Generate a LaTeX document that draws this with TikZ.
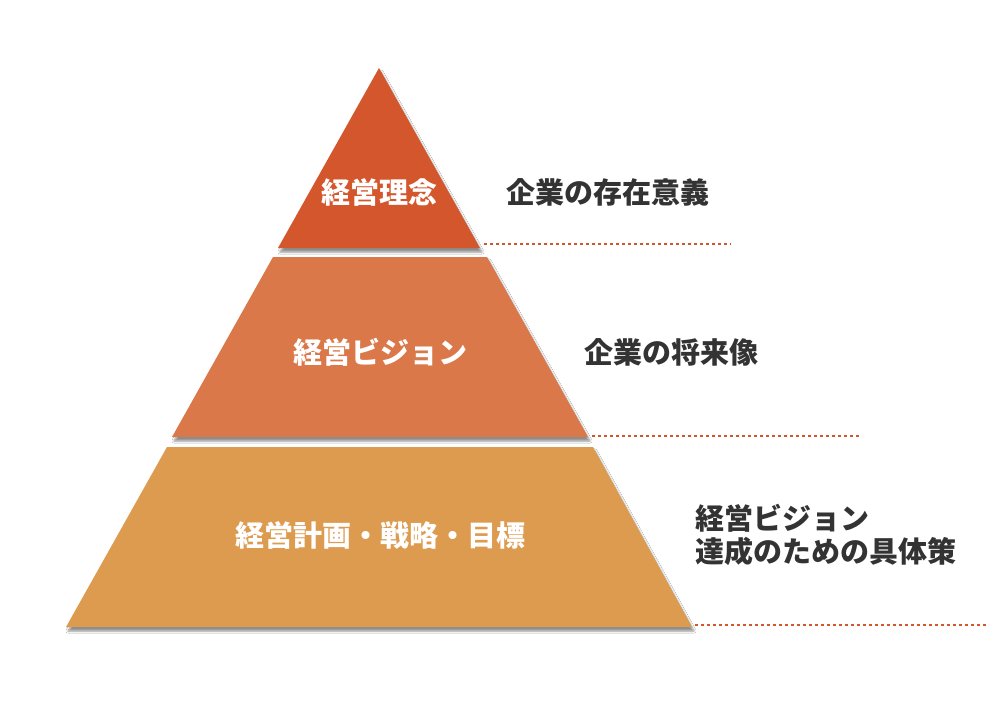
\documentclass[tikz,border=0pt]{standalone}
\usepackage{fontspec}
\setmainfont{Noto Sans CJK JP}
\usetikzlibrary{shadows.blur}

\definecolor{rinenred}{RGB}{212,86,44}
\definecolor{visionorange}{RGB}{218,120,73}
\definecolor{planorange}{RGB}{221,155,80}
\definecolor{notegray}{RGB}{51,51,51}

\begin{document}
\begin{tikzpicture}[x=1pt,y=-1pt,
  layer/.style={blur shadow={shadow xshift=2pt,shadow yshift=-4pt,shadow blur steps=5,shadow opacity=45}},
  inlabel/.style={font=\bfseries\fontsize{29}{33}\selectfont,text=white,inner sep=0pt},
  note/.style={font=\bfseries\fontsize{29}{33}\selectfont,text=notegray,anchor=west,align=left,inner sep=0pt},
  guide/.style={rinenred,line width=2pt,dash pattern=on 3pt off 3pt}]
  \useasboundingbox[fill=white] (0,0) rectangle (1000,705);
  % pyramid layers
  \fill[rinenred,layer] (379,68) -- (480,248) -- (278,248) -- cycle;
  \fill[visionorange,layer] (273,257) -- (487,257) -- (588,437) -- (172,437) -- cycle;
  \fill[planorange,layer] (167,447) -- (593,447) -- (692,627) -- (66,627) -- cycle;
  % labels inside
  \node[inlabel] (rinen) at (379,192) {経営理念};
  \node[inlabel] (vision) at (380,352) {経営ビジョン};
  \node[inlabel] (keikaku) at (380,535) {経営計画・戦略・目標};
  % notes on the right
  \node[note] (rinenNote) at (506,192) {企業の存在意義};
  \node[note] (visionNote) at (584,352) {企業の将来像};
  \node[note] (keikakuNote) at (695,535) {経営ビジョン\\達成のための具体策};
  % dotted guides
  \coordinate (g1a) at (484,244); \coordinate (g1b) at (731,244);
  \coordinate (g2a) at (592,436); \coordinate (g2b) at (860,436);
  \coordinate (g3a) at (695,625); \coordinate (g3b) at (988,625);
  \draw[guide] (g1a) -- (g1b);
  \draw[guide] (g2a) -- (g2b);
  \draw[guide] (g3a) -- (g3b);
\end{tikzpicture}
\end{document}
